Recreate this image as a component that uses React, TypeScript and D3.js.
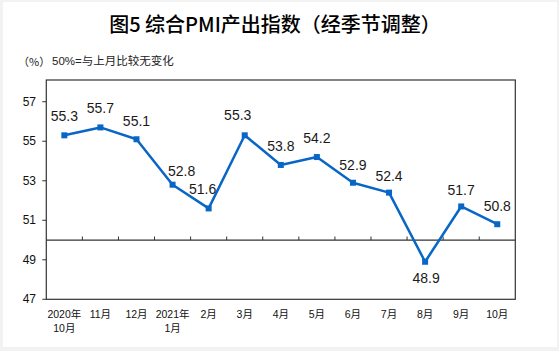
import React from "react";
import * as d3 from "d3";

const months = ["2020年\n10月", "11月", "12月", "2021年\n1月", "2月", "3月", "4月", "5月", "6月", "7月", "8月", "9月", "10月"];
const values = [55.3, 55.7, 55.1, 52.8, 51.6, 55.3, 53.8, 54.2, 52.9, 52.4, 48.9, 51.7, 50.8];
const yTicks = [47, 49, 51, 53, 55, 57];
const titleText = "图5 综合PMI产出指数（经季节调整）";
const unitText = "（%）";
const noteText = "50%=与上月比较无变化";

// label placement (dx, dy relative to point)
const labelOffsets: [number, number][] = [
  [0, -14], [0, -14], [0, -13], [9, -9], [-6, -14], [-7, -15], [0, -14],
  [0, -14], [0, -13], [0, -12], [1, 21], [0, -11], [0, -13],
];

const W = 559, H = 351;
const L = 46.3, R = 515.3, T = 80, B = 299.3;
const blue = "#0866c6";
const sans = "'Liberation Sans', Arial, 'Noto Sans CJK SC', sans-serif";

export default function App() {
  const x = d3.scaleBand<string>().domain(months).range([L, R]).padding(0);
  const y = d3.scaleLinear().domain([47, 58.1]).range([B, T]);
  const cx = (i: number) => (x(months[i]) as number) + x.bandwidth() / 2;
  const line = d3.line<number>().x((_, i) => cx(i)).y((d) => y(d));
  const y50 = y(50);
  const boundaries = months.slice(1).map((m) => x(m) as number);

  return (
    <svg width={W} height={H} style={{ position: "absolute", left: 0, top: 0, display: "block" }}>
      <rect x={0} y={0} width={W} height={H} fill="#f2f2f2" />
      <rect x={3} y={2} width={554} height={345} fill="#ffffff" />
      <text x={275} y={32} textAnchor="middle" fontFamily="'Noto Sans CJK SC', sans-serif" fontWeight={500} fontSize={20} fill="#000">{titleText}</text>
      <text x={18} y={66} fontFamily="'Noto Sans CJK SC', sans-serif" fontSize={11} fill="#222">{unitText}</text>
      <text x={52} y={65} fontFamily={sans} fontSize={11.5} fill="#222">{noteText}</text>
      {/* plot frame */}
      <rect x={L} y={T} width={R - L} height={B - T} fill="none" stroke="#333" strokeWidth={1.2} />
      {/* y ticks */}
      {yTicks.map((t) => (
        <g key={t}>
          <line x1={L - 4} x2={L} y1={y(t)} y2={y(t)} stroke="#333" strokeWidth={1} />
          <text x={36} y={y(t) + 4} textAnchor="end" fontFamily={sans} fontSize={12} fill="#111">{t}</text>
        </g>
      ))}
      {/* 50 line */}
      <line x1={L} x2={R} y1={y50} y2={y50} stroke="#333" strokeWidth={1.2} />
      {boundaries.map((bx, i) => (
        <line key={i} x1={bx} x2={bx} y1={y50} y2={y50 - 3.5} stroke="#333" strokeWidth={1} />
      ))}
      {/* x labels */}
      {months.map((m, i) => {
        const parts = m.split("\n");
        return (
          <text key={m} x={cx(i)} y={318} textAnchor="middle" fontFamily={sans} fontSize={10.5} fill="#111">
            {parts.map((p, j) => (
              <tspan key={j} x={cx(i)} dy={j === 0 ? 0 : 14}>{p}</tspan>
            ))}
          </text>
        );
      })}
      {/* series */}
      <path d={line(values) as string} fill="none" stroke={blue} strokeWidth={2.5} strokeLinejoin="round" />
      {values.map((v, i) => (
        <rect key={i} x={cx(i) - 3} y={y(v) - 3} width={6} height={6} fill={blue} />
      ))}
      {values.map((v, i) => (
        <text key={"l" + i} x={cx(i) + labelOffsets[i][0]} y={y(v) + labelOffsets[i][1]} textAnchor="middle" fontFamily={sans} fontSize={14} fill="#1a1a1a">
          {v.toFixed(1)}
        </text>
      ))}
    </svg>
  );
}
